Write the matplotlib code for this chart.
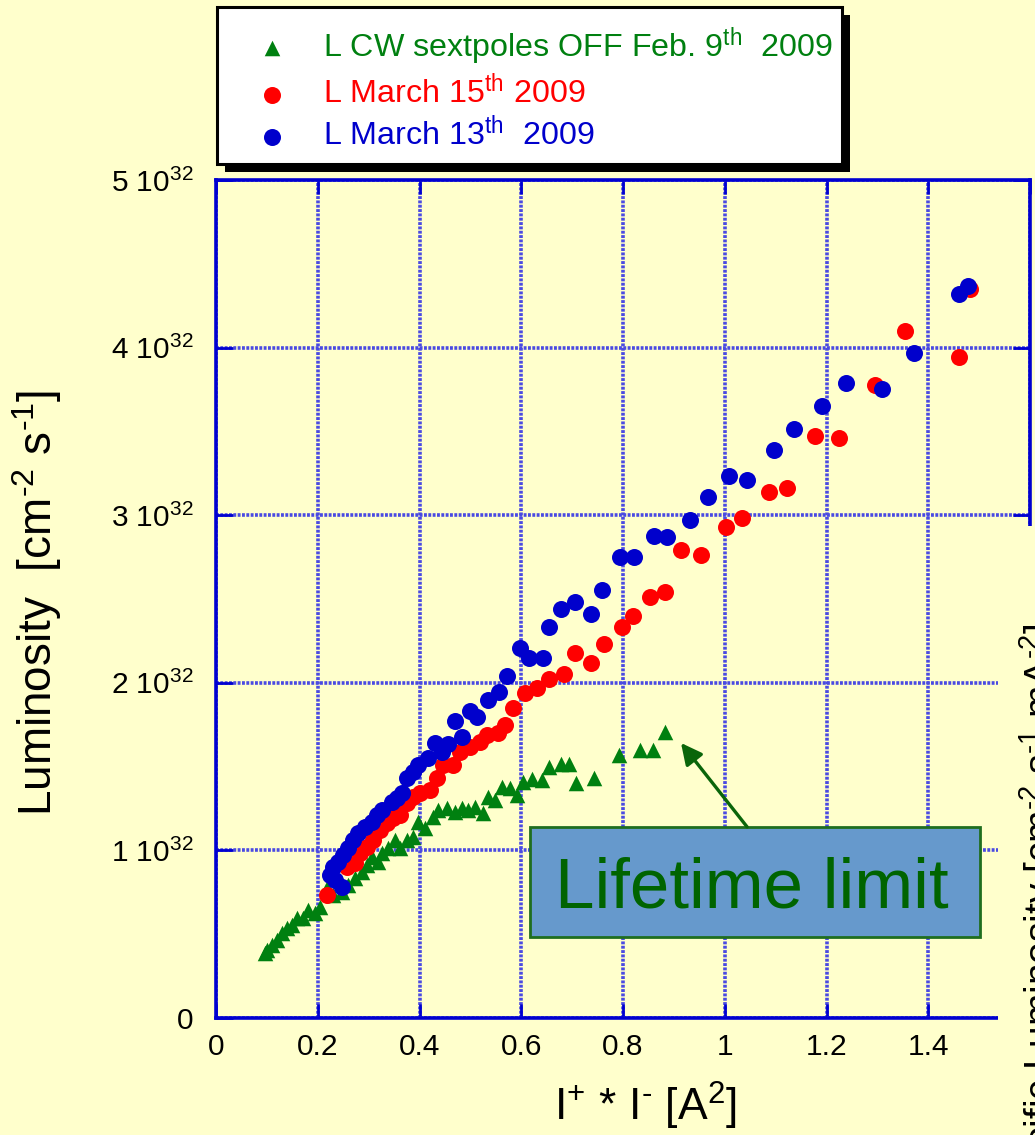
import matplotlib
matplotlib.use("Agg")
import matplotlib.pyplot as plt
from matplotlib.patches import Rectangle

plt.rcParams['font.family'] = ['Liberation Sans', 'DejaVu Sans']
plt.rcParams['mathtext.fontset'] = 'custom'
plt.rcParams['mathtext.rm'] = 'Liberation Sans'
plt.rcParams['mathtext.it'] = 'Liberation Sans:italic'
plt.rcParams['mathtext.bf'] = 'Liberation Sans:bold'
plt.rcParams['mathtext.default'] = 'rm'

# ---------------- data (luminosity in units of 1e32 cm^-2 s^-1) ----------------
feb9_x = [0.096, 0.100, 0.110, 0.120, 0.130, 0.140, 0.149, 0.159, 0.171, 0.181,
          0.195, 0.204, 0.218, 0.230, 0.248, 0.260, 0.273, 0.287, 0.297, 0.307,
          0.319, 0.326, 0.338, 0.352, 0.362, 0.376, 0.387, 0.397, 0.411, 0.427,
          0.436, 0.454, 0.470, 0.484, 0.495, 0.509, 0.525, 0.535, 0.549, 0.562,
          0.578, 0.592, 0.604, 0.621, 0.641, 0.655, 0.678, 0.694, 0.708, 0.743,
          0.792, 0.834, 0.859, 0.883]
feb9_y = [0.388, 0.406, 0.436, 0.465, 0.507, 0.537, 0.555, 0.597, 0.597, 0.644,
          0.626, 0.662, 0.776, 0.734, 0.752, 0.794, 0.835, 0.871, 0.913, 0.961,
          0.931, 0.984, 1.014, 1.062, 1.014, 1.062, 1.080, 1.169, 1.134, 1.199,
          1.241, 1.253, 1.229, 1.253, 1.241, 1.259, 1.223, 1.319, 1.301, 1.378,
          1.372, 1.331, 1.408, 1.426, 1.420, 1.498, 1.516, 1.516, 1.402, 1.432,
          1.569, 1.599, 1.599, 1.706]

mar15_x = [0.218, 0.258, 0.273, 0.283, 0.297, 0.309, 0.322, 0.336, 0.348, 0.362,
           0.376, 0.387, 0.401, 0.421, 0.435, 0.446, 0.466, 0.480, 0.499, 0.519,
           0.533, 0.554, 0.568, 0.584, 0.608, 0.631, 0.655, 0.684, 0.706, 0.737,
           0.763, 0.798, 0.820, 0.853, 0.883, 0.914, 0.954, 1.003, 1.034, 1.087,
           1.123, 1.178, 1.225, 1.296, 1.355, 1.461, 1.483]
mar15_y = [0.734, 0.901, 0.925, 0.984, 1.020, 1.062, 1.122, 1.163, 1.193, 1.211,
           1.283, 1.319, 1.342, 1.360, 1.432, 1.510, 1.510, 1.587, 1.617, 1.647,
           1.689, 1.700, 1.748, 1.850, 1.939, 1.969, 2.023, 2.053, 2.178, 2.118,
           2.232, 2.333, 2.399, 2.512, 2.542, 2.792, 2.763, 2.930, 2.983, 3.138,
           3.162, 3.473, 3.461, 3.777, 4.099, 3.944, 4.350]

mar13_x = [0.224, 0.234, 0.248, 0.230, 0.240, 0.250, 0.260, 0.269, 0.279, 0.293,
           0.307, 0.317, 0.326, 0.346, 0.356, 0.366, 0.376, 0.387, 0.397, 0.417,
           0.431, 0.444, 0.456, 0.470, 0.484, 0.499, 0.513, 0.535, 0.556, 0.572,
           0.598, 0.615, 0.643, 0.655, 0.678, 0.706, 0.737, 0.759, 0.794, 0.822,
           0.861, 0.887, 0.932, 0.967, 1.009, 1.044, 1.097, 1.136, 1.192, 1.239,
           1.309, 1.372, 1.461, 1.479]
mar13_y = [0.853, 0.823, 0.782, 0.901, 0.931, 0.973, 1.014, 1.062, 1.104, 1.140,
           1.169, 1.211, 1.241, 1.289, 1.313, 1.342, 1.432, 1.468, 1.510, 1.551,
           1.641, 1.587, 1.635, 1.772, 1.677, 1.832, 1.796, 1.897, 1.945, 2.041,
           2.208, 2.148, 2.148, 2.333, 2.440, 2.482, 2.411, 2.554, 2.751, 2.751,
           2.876, 2.870, 2.971, 3.109, 3.234, 3.210, 3.389, 3.514, 3.652, 3.789,
           3.753, 3.968, 4.320, 4.368]

series_labels = [r'L CW sextpoles OFF Feb. 9$^{\rm th}$  2009',
                 r'L March 15$^{\rm th}$ 2009',
                 r'L March 13$^{\rm th}$  2009']

x_ticks = [0, 0.2, 0.4, 0.6, 0.8, 1.0, 1.2, 1.4, 1.6]
x_tick_labels = ['0', '0.2', '0.4', '0.6', '0.8', '1', '1.2', '1.4', '']
y_ticks = [0, 1, 2, 3, 4, 5]
y_tick_labels = ['0', r'1 10$^{32}$', r'2 10$^{32}$', r'3 10$^{32}$',
                 r'4 10$^{32}$', r'5 10$^{32}$']

HY = '\u2010'  # short hyphen as in the original
ylabel_text = r'Luminosity  [cm$^{%s2}$ s$^{%s1}$]' % (HY, HY)
xlabel_text = r'I$^{+}$ * I$^{%s}$ [A$^{2}$]' % HY
side_label = r'Specific Luminosity [cm$^{%s2}$ s$^{%s1}$ mA$^{%s2}$]' % (HY, HY, HY)

annot_text = 'Lifetime limit'
annot_tip = (0.914, 1.641)
annot_tail = (1.044, 1.140)

# ---------------- style ----------------
BG = '#ffffcc'
GREEN = '#008010'
RED = '#ff0000'
BLUE = '#0000cc'
AXBLUE = '#0000d0'
GRID = '#4a4ae2'

W, H = 1035, 1135
fig = plt.figure(figsize=(W / 100, H / 100), dpi=100, facecolor=BG)
ax = fig.add_axes([216 / W, 1 - 1018 / H, 814 / W, 838 / H])
ax.set_facecolor(BG)

ax.set_xlim(0, 1.6)
ax.set_ylim(0, 5)

ax.grid(True, color=GRID, lw=2.6, linestyle=(0, (0.8, 0.4)), zorder=0)
ax.set_axisbelow(True)

for s in ax.spines.values():
    s.set_color(AXBLUE)
    s.set_linewidth(2.6)

ax.set_xticks(x_ticks)
ax.set_xticklabels(x_tick_labels)
ax.set_yticks(y_ticks)
ax.set_yticklabels(y_tick_labels)
ax.tick_params(direction='in', length=10, width=2, color=AXBLUE,
               top=True, right=True, labelsize=21.5)
ax.tick_params(axis='x', pad=11)
ax.tick_params(axis='y', pad=16, length=12)

g = ax.scatter(feb9_x, feb9_y, marker='^', s=125, color=GREEN, zorder=3,
               linewidths=0, label=series_labels[0])
r = ax.scatter(mar15_x, mar15_y, marker='o', s=150, color=RED, zorder=4,
               linewidths=0, label=series_labels[1])
b = ax.scatter(mar13_x, mar13_y, marker='o', s=150, color=BLUE, zorder=5,
               linewidths=0, label=series_labels[2])

# y label
fig.text(52 / W, 1 - 816 / H, ylabel_text, rotation=90, rotation_mode='anchor',
         ha='left', va='baseline', fontsize=33)

ax.set_xlabel(xlabel_text, fontsize=32)
ax.xaxis.set_label_coords(0.528, -0.074)

# annotation box + arrow
ax.add_patch(Rectangle((0.3857, 0.0967), 0.5528, 0.1313, transform=ax.transAxes,
                       facecolor='#6699cc', edgecolor='#1f6e1f', lw=2, zorder=6))
ax.text(0.658, 0.1313, annot_text, transform=ax.transAxes, ha='center',
        va='baseline', fontsize=51, color='#006400', zorder=7)
ax.annotate('', xy=annot_tip, xytext=annot_tail,
            arrowprops=dict(arrowstyle='-|>', color='#0a650a', lw=2.4,
                            mutation_scale=32, shrinkA=0, shrinkB=0), zorder=7)

# legend box with black drop shadow
fig.patches.append(Rectangle((225 / W, 1 - 172 / H), 625 / W, 157 / H,
                             transform=fig.transFigure, facecolor='black',
                             edgecolor='none', zorder=-2, figure=fig))
fig.patches.append(Rectangle((217 / W, 1 - 164 / H), 625 / W, 157 / H,
                             transform=fig.transFigure, facecolor='white',
                             edgecolor='black', lw=2.2, zorder=-1, figure=fig))
leg = ax.legend(handles=[g, r, b], loc='upper left',
                bbox_to_anchor=(237 / W, 1 - 25 / H),
                bbox_transform=fig.transFigure,
                fontsize=23.2, frameon=False, borderpad=0,
                handlelength=2.2, handletextpad=0.46, labelspacing=0.2,
                borderaxespad=0, scatterpoints=1)
for txt, col in zip(leg.get_texts(), [GREEN, RED, BLUE]):
    txt.set_color(col)
leg.set_zorder(20)

# overlapping neighbour panel (covers the lower right part)
fig.patches.append(Rectangle((998 / W, 0), 1 - 998 / W, 1 - 526 / H,
                             transform=fig.transFigure, facecolor=BG,
                             edgecolor='none', zorder=5, figure=fig))
fig.text(1053 / W, 1 - 624 / H, side_label,
         rotation=90, rotation_mode='anchor', ha='right', va='baseline',
         fontsize=28, color='black', zorder=6)

fig.savefig('out.png', dpi=100, facecolor=BG)
